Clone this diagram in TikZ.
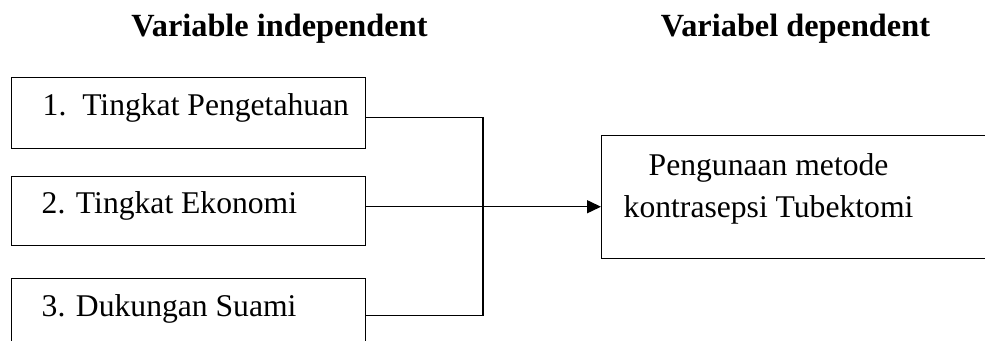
\documentclass[tikz,border=0pt]{standalone}
\usepackage{fontspec}
\setmainfont{Liberation Serif}
\usetikzlibrary{arrows.meta,positioning,calc}

\begin{document}
\begin{tikzpicture}[
  x={(0.02cm,0cm)},
  y={(0cm,-0.02cm)},
  font=\fontsize{18pt}{23.9pt}\selectfont,
  line width=0.85pt,
  varbox/.style={draw, rectangle, anchor=north west, minimum width=7.08cm,
    text width=6.68cm, inner xsep=0.2cm, inner ysep=0pt, align=flush left,
    text height=0.45cm, text depth=0.35cm},
  heading/.style={anchor=base, font=\fontsize{18.4pt}{23.9pt}\selectfont\bfseries}]
% page frame, the boxes run over its edges
\useasboundingbox (0,0) rectangle (985,341);
\clip (0,0) rectangle (985,341);
% headings
\node[heading] (tind) at (279.5,37) {Variable independent};
\node[heading] (tdep) at (795.5,37) {Variabel dependent};
% independent variables
\node[varbox, minimum height=1.42cm] (f1) at (11,77)
  {\hspace*{0.42cm}1.\ \ Tingkat Pengetahuan};
\node[varbox, minimum height=1.38cm] (f2) at (11,176)
  {\hspace*{0.4cm}2. Tingkat Ekonomi};
\node[varbox, minimum height=1.4cm] (f3) at (11,278)
  {\hspace*{0.4cm}3. Dukungan Suami};
% dependent variable
\node[draw, rectangle, anchor=north west, minimum width=8.08cm,
  text width=7.68cm, inner xsep=0.2cm, minimum height=2.46cm, align=flush left]
  (dep) at (601,135)
  {\hspace*{0.74cm}Pengunaan metode\\
   \hspace*{0.24cm}kontrasepsi Tubektomi\rule[-0.45cm]{0pt}{0pt}};
% connectors
\coordinate (bus) at (483,0);
\draw ([yshift=-0.09cm]f1.east) -- ([yshift=-0.09cm]f1.east -| bus)
  -- ([yshift=-0.04cm]f3.east -| bus) -- ([yshift=-0.04cm]f3.east);
\draw[-{Triangle[length=0.28cm,width=0.26cm]}]
  ([yshift=0.09cm]f2.east) -- ([yshift=0.09cm]f2.east -| dep.west);
\end{tikzpicture}
\end{document}
